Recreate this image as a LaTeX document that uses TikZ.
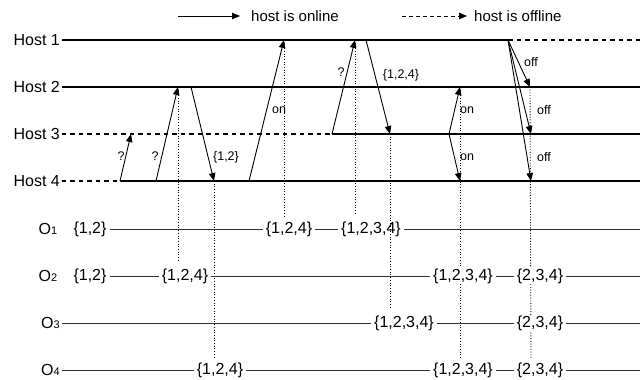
\documentclass[tikz,border=0pt]{standalone}
\usepackage{fontspec}
\setmainfont{Liberation Sans}
\usetikzlibrary{arrows.meta}
\tikzset{
  hostline/.style={line width=1.4pt},
  offline/.style={line width=1.4pt, dash pattern=on 4.5pt off 4pt},
  msg/.style={line width=0.9pt, -{Triangle[length=8pt,width=6.5pt]}},
  trace/.style={line width=0.9pt, dash pattern=on 1pt off 1.7pt},
  rowline/.style={line width=1pt, black!80},
  hostlabel/.style={anchor=east, inner xsep=1.5pt, inner ysep=0pt, font=\fontsize{16}{16}\selectfont},
  legendtext/.style={anchor=west, inner sep=0pt, font=\fontsize{15}{15}\selectfont},
  setlabel/.style={fill=white, inner xsep=3pt, inner ysep=1pt, font=\fontsize{16}{16}\selectfont},
  msglabel/.style={inner sep=0pt, font=\fontsize{12.5}{12.5}\selectfont},
}
\newcommand{\objname}[1]{O{\fontsize{11}{11}\selectfont #1}}
\begin{document}
\begin{tikzpicture}[x=1pt,y=-1pt]
\useasboundingbox (0,0) rectangle (640,380);

% legend
\coordinate (lonA) at (178,16);  \coordinate (lonB) at (240,16);
\coordinate (loffA) at (402,16); \coordinate (loffB) at (467,16);
\draw[msg] (lonA) -- (lonB);
\node[legendtext] (lon) at (251,16) {host is online};
\draw[msg, dash pattern=on 4pt off 3pt] (loffA) -- (loffB);
\node[legendtext] (loff) at (474,16) {host is offline};

% host timelines
\node[hostlabel] (h1) at (61.5,40) {Host 1};
\node[hostlabel] (h2) at (61.5,87) {Host 2};
\node[hostlabel] (h3) at (61.5,134) {Host 3};
\node[hostlabel] (h4) at (61.5,181) {Host 4};

\coordinate (h1off) at (508,40);   \coordinate (h1end) at (640,40);
\coordinate (h2end) at (640,87);
\coordinate (h3on)  at (332,134);  \coordinate (h3end) at (640,134);
\coordinate (h4on)  at (120,181);  \coordinate (h4end) at (640,181);

\draw[hostline] (h1.east) -- (h1off);
\draw[offline]  (h1off) -- (h1end);
\draw[hostline] (h2.east) -- (h2end);
\draw[offline]  (h3.east) -- (h3on);
\draw[hostline] (h3on) -- (h3end);
\draw[offline]  (h4.east) -- (h4on);
\draw[hostline] (h4on) -- (h4end);

% message end points
\coordinate (t1) at (131,134);
\coordinate (s2) at (156,181);   \coordinate (t2) at (178,87);
\coordinate (s3) at (191,87);    \coordinate (t3) at (214,181);
\coordinate (s4) at (249,181);   \coordinate (t4) at (284,40);
\coordinate (t5) at (355,40);
\coordinate (s6) at (366,40);    \coordinate (t6) at (390,134);
\coordinate (s7) at (449,134);   \coordinate (t7a) at (460,87); \coordinate (t7b) at (460,181);
\coordinate (t8a) at (530,87);   \coordinate (t8b) at (531,134); \coordinate (t8c) at (531,181);

% trace ends
\coordinate (d2) at (178,260);
\coordinate (d3) at (214,358);
\coordinate (d4) at (284,218);
\coordinate (d5) at (355,213);
\coordinate (d6) at (390,309);
\coordinate (d7) at (460,358);
\coordinate (d8) at (531,358);

% traces down to the object rows
\draw[trace] (t2) -- (d2);
\draw[trace] (t3) -- (d3);
\draw[trace] (t4) -- (d4);
\draw[trace] (t5) -- (d5);
\draw[trace] (t7a) -- (d7);
\draw[trace] (t8a) -- (d8);

% messages
\draw[msg] (h4on) -- (t1);
\draw[msg] (s2) -- (t2);
\draw[msg] (s3) -- (t3);
\draw[msg] (s4) -- (t4);
\draw[msg] (h3on) -- (t5);
\draw[msg] (s6) -- (t6);
\draw[msg] (s7) -- (t7a);
\draw[msg] (s7) -- (t7b);
\draw[msg] (h1off) -- (t8a);
\draw[msg] (h1off) -- (t8b);
\draw[msg] (h1off) -- (t8c);

\node[msglabel] (m1) at (121,156) {?};
\node[msglabel] (m2) at (155,156) {?};
\node[msglabel] (m3) at (226,157) {\{1,2\}};
\node[msglabel] (m4) at (279,110) {on};
\node[msglabel] (m5) at (341,72) {?};
\node[msglabel] (m6) at (401,75) {\{1,2,4\}};
\node[msglabel] (m7a) at (467,110) {on};
\node[msglabel] (m7b) at (467,157) {on};
\node[msglabel] (m8a) at (531,62) {off};
\node[msglabel] (m8b) at (544,110) {off};
\node[msglabel] (m8c) at (544,157) {off};

% object rows
\node[hostlabel] (o1) at (59,229) {\objname{1}};
\node[hostlabel] (o2) at (59,276) {\objname{2}};
\node[hostlabel] (o3) at (61.5,323) {\objname{3}};
\node[hostlabel] (o4) at (61.5,370) {\objname{4}};
\coordinate (o1end) at (640,229);
\coordinate (o2end) at (640,276);
\coordinate (o3end) at (640,323);
\coordinate (o4end) at (640,370);

\node[setlabel] (a1) at (90,229)  {\{1,2\}};
\node[setlabel] (b1) at (289,229) {\{1,2,4\}};
\node[setlabel] (c1) at (371,229) {\{1,2,3,4\}};

\node[setlabel] (a2) at (90,276)  {\{1,2\}};
\node[setlabel] (b2) at (185,276) {\{1,2,4\}};
\node[setlabel] (c2) at (463,276) {\{1,2,3,4\}};
\node[setlabel] (e2) at (540,276) {\{2,3,4\}};

\node[setlabel] (c3) at (404,323) {\{1,2,3,4\}};
\node[setlabel] (e3) at (540,323) {\{2,3,4\}};

\node[setlabel] (b4) at (220,370) {\{1,2,4\}};
\node[setlabel] (c4) at (463,370) {\{1,2,3,4\}};
\node[setlabel] (e4) at (540,370) {\{2,3,4\}};

\draw[rowline] (a1) -- (b1) (b1) -- (c1) (c1) -- (o1end);
\draw[rowline] (a2) -- (b2) (b2) -- (c2) (c2) -- (e2) (e2) -- (o2end);
\draw[rowline] (o3.east) -- (c3) (c3) -- (e3) (e3) -- (o3end);
\draw[rowline] (o4.east) -- (b4) (b4) -- (c4) (c4) -- (e4) (e4) -- (o4end);

% this trace runs over the set it leads past
\draw[trace] (t6) -- (d6);
\end{tikzpicture}
\end{document}
